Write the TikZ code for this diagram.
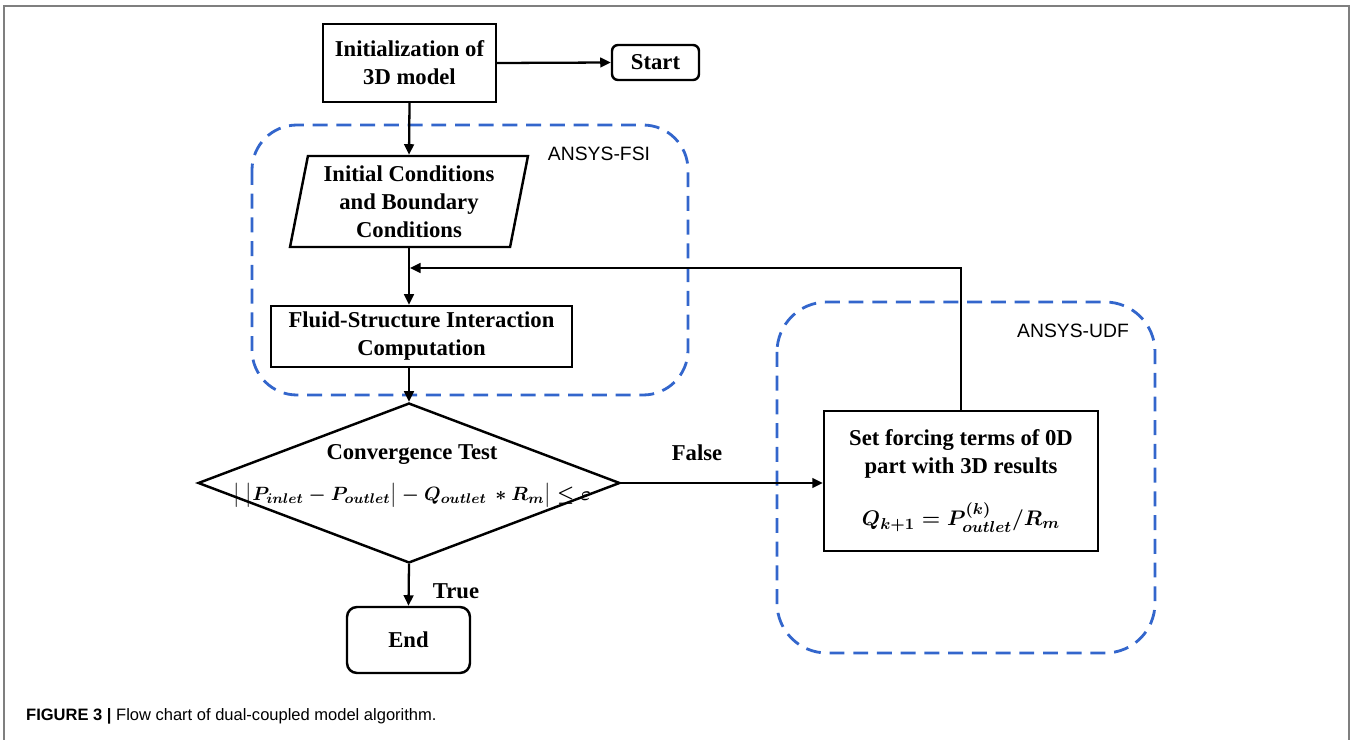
\documentclass[tikz,border=0pt]{standalone}
\usepackage{fontspec}
\usepackage{amsmath,amssymb,bm}
\usetikzlibrary{shapes.geometric,arrows.meta}
\setmainfont{Liberation Serif}
\newfontfamily\tagfont{Liberation Sans}
\definecolor{FrameGray}{HTML}{7F7F7F}
\definecolor{GroupBlue}{HTML}{3366CC}
\newcommand{\convcheck}{{\fontsize{11}{13}\selectfont\boldmath$\bigl\lvert\;\bigl\lvert P_{inlet}-P_{outlet}\bigr\rvert-Q_{outlet}\,\ast R_m\bigr\rvert\leq\varepsilon$}}
\newcommand{\flowupdate}{{\boldmath$Q_{k+1}=P^{(k)}_{outlet}/R_m$}}

\begin{document}
\begin{tikzpicture}[x=0.02cm, y=-0.02cm,
  every node/.style={font=\fontsize{12.9}{15.9}\selectfont\bfseries, align=center},
  box/.style={draw, line width=1.4pt, inner sep=0pt},
  roundbox/.style={box, rounded corners=0.2cm},
  flow/.style={line width=1.3pt, -{Triangle[length=6pt, width=5.5pt]}},
  group/.style={GroupBlue, line width=1.6pt, dash pattern=on 8.5pt off 5pt, rounded corners=0.9cm},
  tag/.style={font=\tagfont\fontsize{11}{13}\selectfont}]

  \useasboundingbox (0,0) rectangle (1353,740);
  \draw[FrameGray, line width=1.1pt] (4,740) -- (4,6) -- (1349,6) -- (1349,740);

  % dashed groups
  \draw[group] (252,125) rectangle (688,395);
  \draw[group, rounded corners=1.0cm] (777,302) rectangle (1155,653);
  \node[tag] (fsitag) at (599,154) {ANSYS-FSI};
  \node[tag] (udftag) at (1073,331) {ANSYS-UDF};

  % flow chart
  \node[box, minimum width=3.46cm, minimum height=1.56cm] (init) at (409.5,63) {Initialization of\\3D model};
  \node[box, rounded corners=0.12cm, minimum width=1.74cm, minimum height=0.7cm] (start) at (655.5,62.5) {Start};
  \node[box, trapezium, trapezium left angle=76, trapezium right angle=104, trapezium stretches body,
        minimum width=4.76cm, minimum height=1.82cm] (cond) at (409,201.5)
        {Initial Conditions\\and Boundary\\Conditions};
  \node[box, minimum width=6.02cm, minimum height=1.22cm] (comp) at (421.5,336.5)
        {Fluid-Structure Interaction\\Computation};
  \node[box, diamond, minimum width=8.44cm, minimum height=3.2cm] (test) at (409,483) {};
  \node (testtxt) at (412,476) {Convergence Test\\[7pt]\convcheck};
  \node[roundbox, minimum width=2.46cm, minimum height=1.32cm] (stop) at (408.5,640) {End};
  \node[box, minimum width=5.48cm, minimum height=2.8cm] (set) at (961,481)
        {Set forcing terms of 0D\\part with 3D results\\[13pt]\flowupdate};
  \coordinate (join) at (410,268);

  \draw[flow] (init.east) -- (start.west);
  \draw[flow] (init.south) -- (cond.north);
  \draw[flow] (cond.south) -- (cond.south |- comp.north);
  \draw[flow] (set.north) |- (join);
  \draw[flow] (comp.south -| test.north) -- (test.north);
  \draw[flow] (test.east) -- (test.east -| set.west);
  \draw[flow] (test.south) -- (stop.north);

  \node (falsetag) at (697,453) {False};
  \node (truetag) at (456,591) {True};

  \node[anchor=base west, font=\tagfont\fontsize{9.4}{11}\selectfont] (caption) at (20,720)
        {{\bfseries FIGURE 3 |} Flow chart of dual-coupled model algorithm.};
\end{tikzpicture}
\end{document}
